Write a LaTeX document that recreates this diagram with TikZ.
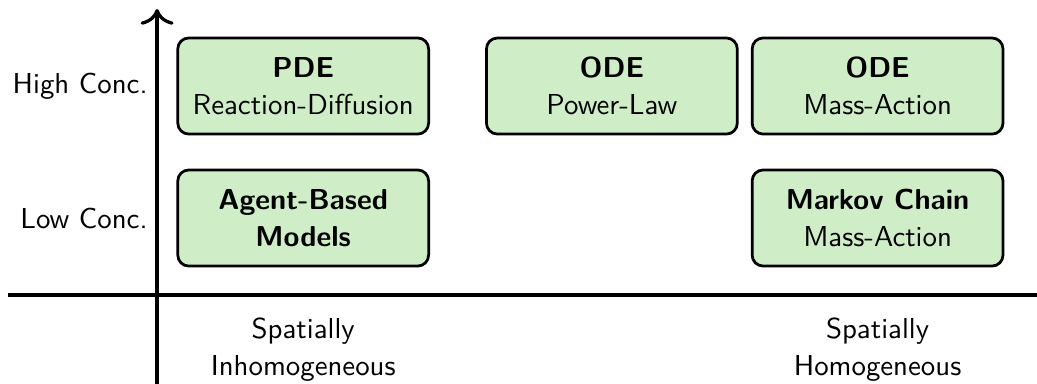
\documentclass[tikz,border=0pt]{standalone}
\usepackage{tikz}
\usetikzlibrary{positioning,arrows.meta}
\definecolor{boxgreen}{RGB}{207,238,200}
\renewcommand{\familydefault}{\sfdefault}

\begin{document}
\fontsize{10.5}{13.6}\selectfont
\begin{tikzpicture}[node distance=1.0mm and 1.0mm,
	modelbox/.style={draw=black, line width=1pt, rounded corners=4pt, fill=boxgreen, minimum width=3.21cm, minimum height=1.23cm, align=center, inner sep=2pt},
	axisLine/.style={line width=1.2pt, -{To[scale=1.35]}},
	conclabel/.style={anchor=east, align=right, inner sep=0pt},
	spacelabel/.style={align=center, inner sep=0pt}
	]
	\useasboundingbox (-2.01,-1.126) rectangle (11.26,3.776);
	% axes
	\coordinate (xstart) at (-1.907,0);
	\coordinate (xend) at (11.52,0);
	\coordinate (ystart) at (0,-1.3);
	\coordinate (yend) at (0,3.66);
	\draw [axisLine] (xstart) -- (xend);
	\draw [axisLine] (ystart) -- (yend);
	
	% model boxes
	\node (pde) [modelbox] at (1.87,2.675) {\textbf{PDE}\\Reaction-Diffusion};
	\node (odepl) [modelbox] at (5.82,2.675) {\textbf{ODE}\\Power-Law};
	\node (odema) [modelbox] at (9.22,2.675) {\textbf{ODE}\\Mass-Action};
	\node (abm) [modelbox] at (1.87,0.986) {\textbf{Agent-Based}\\\textbf{Models}};
	\node (markov) [modelbox] at (9.22,0.986) {\textbf{Markov Chain}\\Mass-Action};
	
	% axis labels
	\node (high) [conclabel] at (-0.115,2.675) {High Conc.};
	\node (low) [conclabel] at (-0.115,0.986) {Low Conc.};
	\node (inhom) [spacelabel] at (1.87,-0.7) {Spatially\\Inhomogeneous};
	\node (hom) [spacelabel] at (9.22,-0.7) {Spatially\\Homogeneous};
\end{tikzpicture}
\end{document}
